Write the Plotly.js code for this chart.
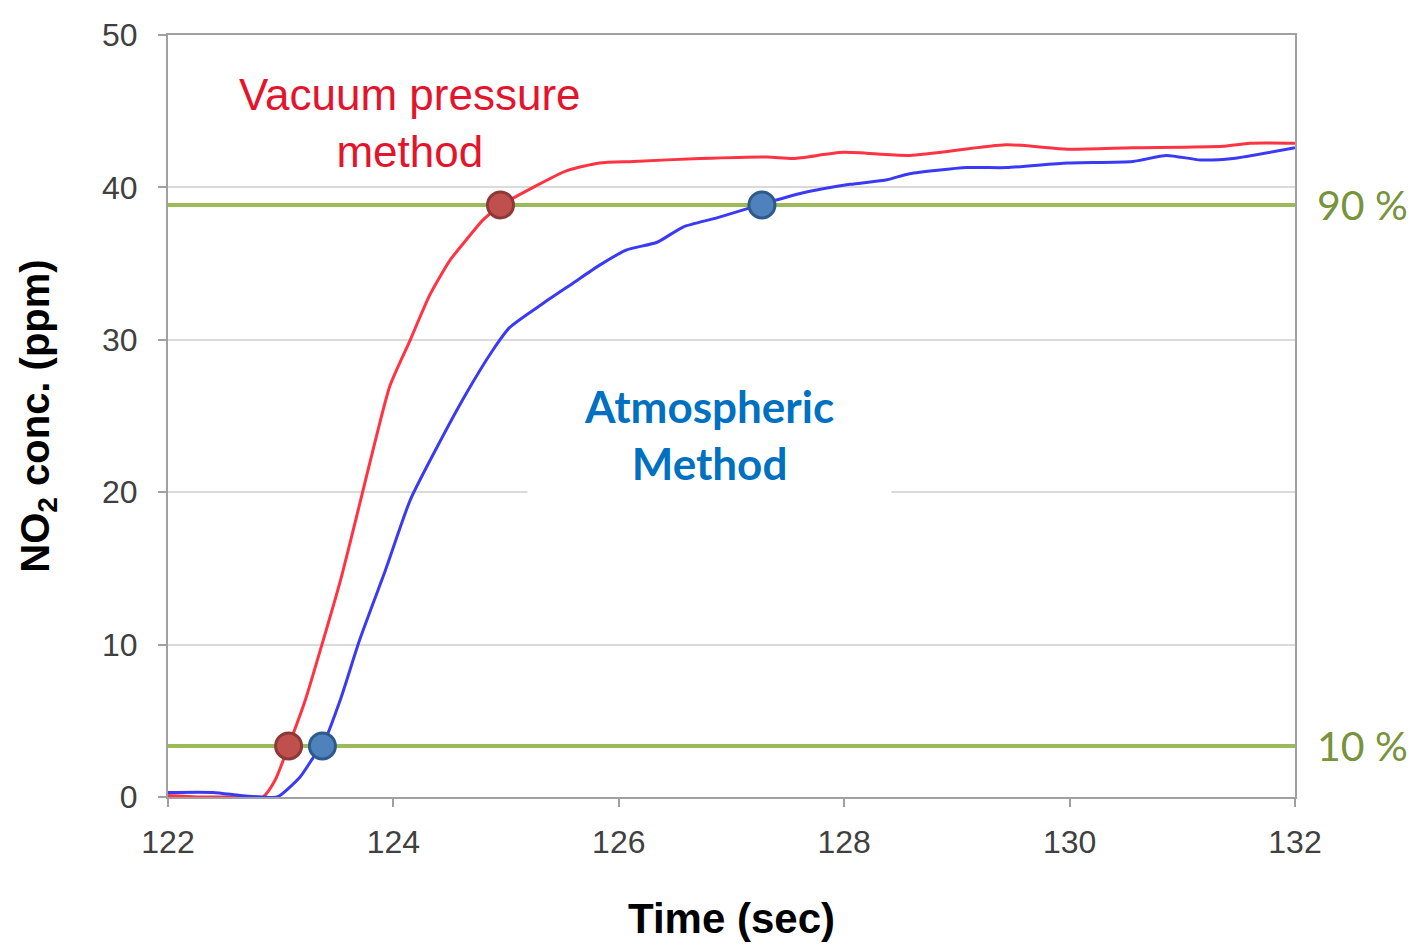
<!DOCTYPE html>
<html>
<head>
<meta charset="utf-8">
<script src="https://cdn.plot.ly/plotly-3.0.1.min.js"></script>
<style>
  html, body { margin: 0; padding: 0; background: #ffffff; }
  #chart { width: 1415px; height: 946px; }
</style>
</head>
<body>
<div id="chart"></div>
<script>
// NO2 concentration rise after gas introduction (time in seconds)
const vacuumTime = [122.00, 122.28, 122.64, 122.84, 122.95, 123.07, 123.22, 123.35, 123.53, 123.70,
  123.82, 123.97, 124.15, 124.32, 124.50, 124.64, 124.80, 124.95, 125.24, 125.54, 125.83, 126.13,
  126.72, 127.32, 127.55, 127.99, 128.58, 129.44, 129.98, 130.56, 131.36, 131.60, 132.00];
const vacuumConc = [0.1, 0.0, 0.0, 0.0, 1.1, 3.35, 6.4, 9.6, 14.2, 19.2,
  22.8, 27.0, 30.0, 32.9, 35.2, 36.5, 37.9, 38.8, 40.0, 41.1, 41.6, 41.7,
  41.9, 42.0, 41.9, 42.3, 42.1, 42.8, 42.5, 42.6, 42.7, 42.9, 42.9];

const atmTime = [122.00, 122.40, 122.64, 122.84, 122.97, 123.17, 123.29, 123.37, 123.53, 123.70,
  123.93, 124.15, 124.39, 124.64, 124.88, 125.03, 125.33, 125.59, 125.83, 126.07, 126.34, 126.57,
  126.87, 127.25, 127.61, 128.05, 128.38, 128.58, 129.09, 129.44, 129.98, 130.56, 130.86, 131.16,
  131.45, 132.00];
const atmConc = [0.3, 0.3, 0.1, 0.0, 0.0, 1.3, 2.6, 3.35, 6.4, 10.3,
  14.9, 19.5, 23.0, 26.4, 29.3, 30.8, 32.4, 33.7, 34.9, 35.9, 36.4, 37.4,
  38.0, 38.85, 39.6, 40.2, 40.5, 40.9, 41.3, 41.3, 41.6, 41.7, 42.1, 41.8,
  41.9, 42.6];

// 10 % and 90 % response levels
const levelNames = ['10 %', '90 %'];
const levelConc = [3.35, 38.85];
const timeSpan = [122, 132];

// crossing times of each level
const vacuumCrossTime = [123.07, 124.95];
const atmCrossTime = [123.37, 127.27];

const xTicks = [122, 124, 126, 128, 130, 132];
const yTicks = [0, 10, 20, 30, 40, 50];

const green = '#9bbb59';

const traces = [
  {
    x: vacuumTime, y: vacuumConc, type: 'scatter', mode: 'lines',
    line: { color: '#ff3342', width: 3, shape: 'spline', smoothing: 0.6 },
    hoverinfo: 'skip', showlegend: false
  },
  {
    x: atmTime, y: atmConc, type: 'scatter', mode: 'lines',
    line: { color: '#3a3af5', width: 3, shape: 'spline', smoothing: 0.6 },
    hoverinfo: 'skip', showlegend: false
  }
];

levelConc.forEach(function (v) {
  traces.push({
    x: timeSpan, y: [v, v], type: 'scatter', mode: 'lines',
    line: { color: green, width: 4 }, cliponaxis: false,
    hoverinfo: 'skip', showlegend: false
  });
});

traces.push({
  x: vacuumCrossTime, y: levelConc, type: 'scatter', mode: 'markers',
  marker: { size: 26, color: '#c0504d', line: { color: '#8c3836', width: 3 } },
  cliponaxis: false, showlegend: false
});
traces.push({
  x: atmCrossTime, y: levelConc, type: 'scatter', mode: 'markers',
  marker: { size: 26, color: '#4f81bd', line: { color: '#2c5a8c', width: 3 } },
  cliponaxis: false, showlegend: false
});

const annotations = [
  {
    x: 124.15, y: 44.2, xref: 'x', yref: 'y',
    text: 'Vacuum pressure<br>method', showarrow: false,
    font: { family: 'Liberation Sans, Arial, sans-serif', size: 44, color: '#e4142c' },
    align: 'center', xanchor: 'center', yanchor: 'middle'
  },
  {
    x: 126.8, y: 23.8, xref: 'x', yref: 'y',
    text: '<b>Atmospheric<br>Method</b>', showarrow: false,
    font: { family: 'Lato, Noto Sans, sans-serif', size: 44, color: '#0070c0' },
    align: 'center', xanchor: 'center', yanchor: 'middle'
  }
];

levelNames.forEach(function (name, i) {
  annotations.push({
    x: 1, xref: 'paper', y: levelConc[i], yref: 'y',
    xanchor: 'left', yanchor: 'middle', xshift: 20,
    text: name, showarrow: false,
    font: { family: 'Lato, Noto Sans, sans-serif', size: 41, color: '#77933c' }
  });
});

const layout = {
  width: 1415,
  height: 946,
  margin: { l: 168, r: 120, t: 35, b: 149 },
  paper_bgcolor: '#ffffff',
  plot_bgcolor: '#ffffff',
  showlegend: false,
  xaxis: {
    range: [122, 132],
    tickvals: xTicks,
    ticktext: xTicks.map(String),
    showgrid: false,
    zeroline: false,
    showline: true, linecolor: '#a0a0a0', linewidth: 2, mirror: true,
    ticks: 'outside', ticklen: 8, tickcolor: '#a0a0a0', tickwidth: 2,
    ticklabelstandoff: 8,
    tickfont: { family: 'Liberation Sans, Arial, sans-serif', size: 32, color: '#404040' },
    title: {
      text: '<b>Time (sec)</b>', standoff: 44,
      font: { family: 'Liberation Sans, Arial, sans-serif', size: 42, color: '#000000' }
    }
  },
  yaxis: {
    range: [0, 50],
    tickvals: yTicks,
    ticktext: yTicks.map(String),
    showgrid: true, gridcolor: '#dadada', gridwidth: 2,
    zeroline: false,
    showline: true, linecolor: '#a0a0a0', linewidth: 2, mirror: true,
    ticks: 'outside', ticklen: 8, tickcolor: '#a0a0a0', tickwidth: 2,
    ticklabelstandoff: 14,
    tickfont: { family: 'Liberation Sans, Arial, sans-serif', size: 32, color: '#404040' },
    title: {
      text: '<b>NO<sub>2</sub> conc. (ppm)</b>', standoff: 40,
      font: { family: 'Liberation Sans, Arial, sans-serif', size: 40, color: '#000000' }
    }
  },
  shapes: [
    {
      // white panel behind the atmospheric-method label
      type: 'rect', xref: 'x', yref: 'y', layer: 'between',
      x0: 125.19, x1: 128.42, y0: 19.5, y1: 27.9,
      fillcolor: '#ffffff', line: { width: 0 }
    }
  ],
  annotations: annotations
};

Plotly.newPlot('chart', traces, layout, { displayModeBar: false, staticPlot: true });
</script>
</body>
</html>
